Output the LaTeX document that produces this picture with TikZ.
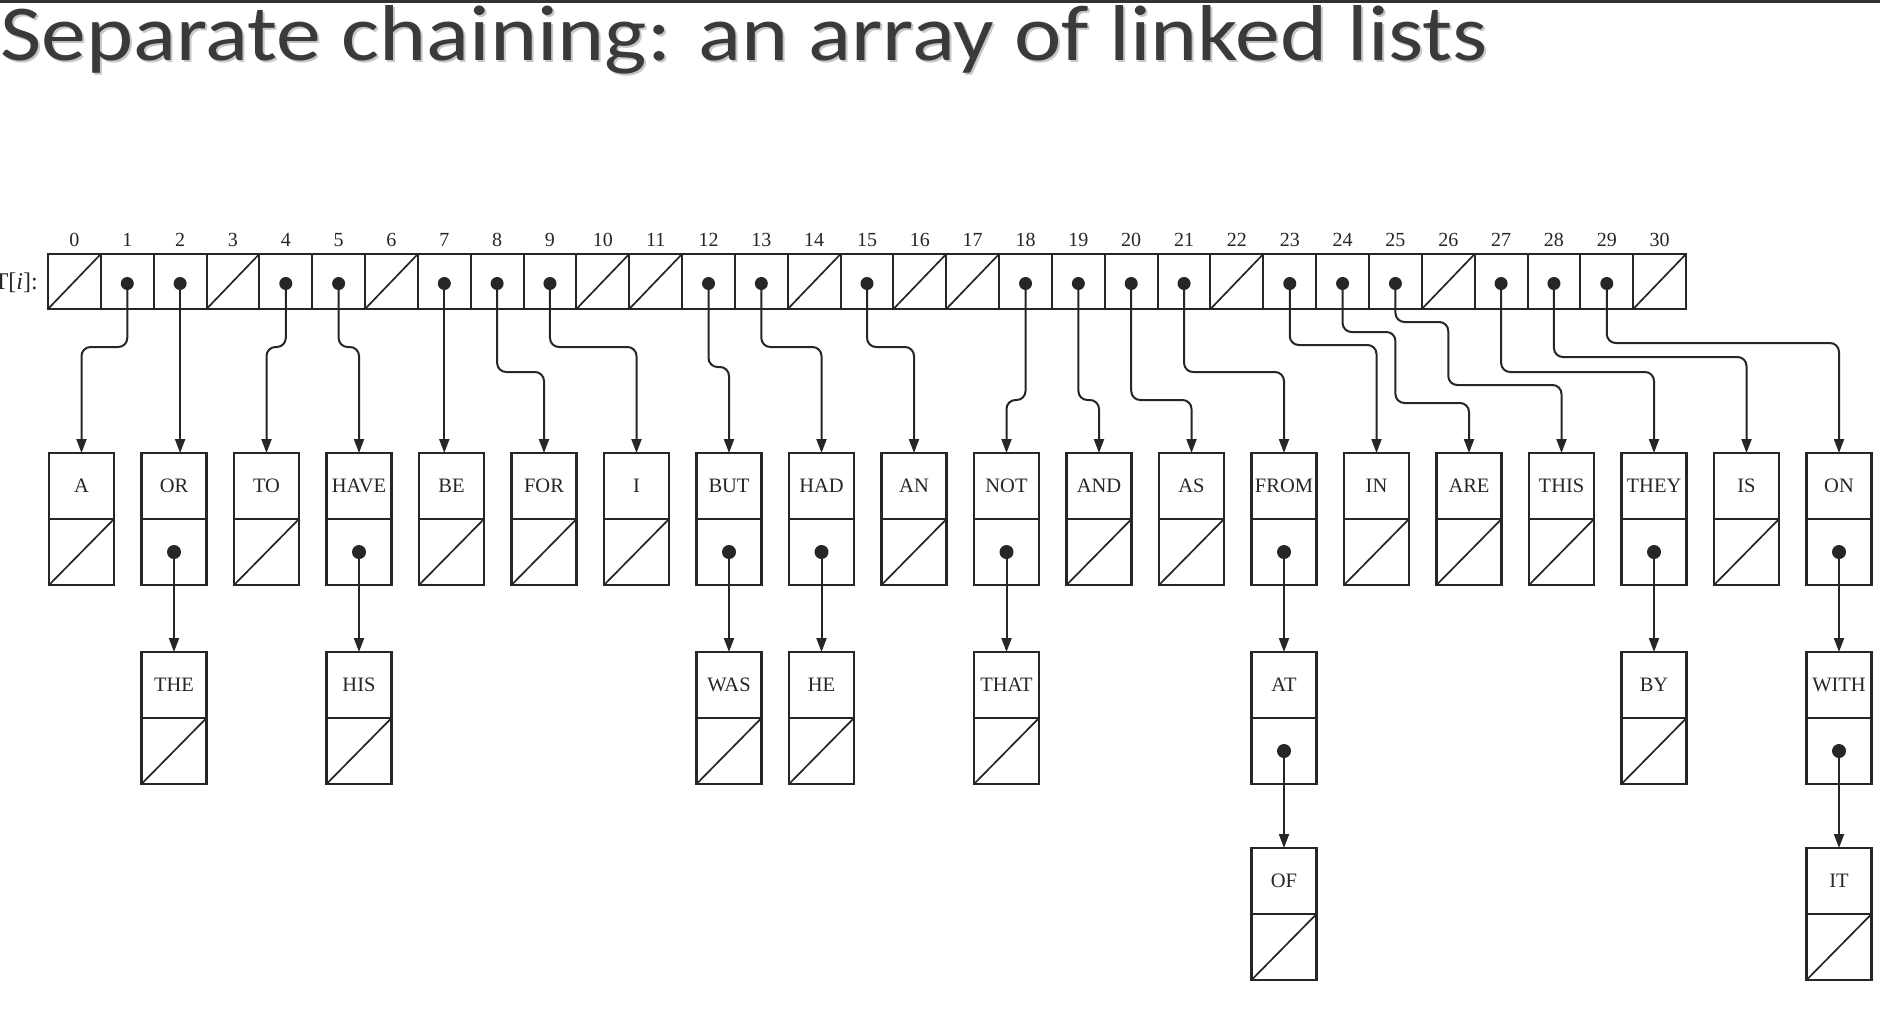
\documentclass[tikz,border=0pt]{standalone}
\usepackage{fontspec}
\usepackage{graphicx}
\usetikzlibrary{arrows.meta}
\setmainfont{Liberation Serif}
\newfontfamily\titlefont{Carlito}
\definecolor{ink}{HTML}{262626}
\definecolor{titleink}{HTML}{3A3A3A}
\begin{document}
\begin{tikzpicture}[x=1pt,y=-1pt,
  acell/.style={draw=ink, line width=2pt, minimum width=52.84pt, minimum height=55pt, inner sep=0pt, outer sep=0pt},
  idx/.style={font=\fontsize{20}{20}\selectfont, text=ink, inner sep=0pt},
  keybox/.style={draw=ink, line width=2.2pt, minimum width=65pt, minimum height=66pt, inner sep=0pt, outer sep=0pt, font=\fontsize{20.5}{20.5}\selectfont, text=ink},
  ptrbox/.style={draw=ink, line width=2.2pt, minimum width=65pt, minimum height=66pt, inner sep=0pt, outer sep=0pt},
  diag/.style={draw=ink, line width=1.7pt},
  conn/.style={draw=ink, line width=2pt, rounded corners=9pt, -{Triangle[length=14pt,width=10pt]}},
  dot/.style={fill=ink}
]
\useasboundingbox (0,0) rectangle (1880,1020);
\fill[white] (0,0) rectangle (1880,1020);
\fill[black!80] (0,0) rectangle (1880,2.5);

% title
\node[anchor=base west, inner sep=0pt, text=black!22] (titleshadow) at (2,62.5) {\resizebox{1488pt}{55pt}{\titlefont Separate chaining: an array of linked lists}};
\node[anchor=base west, inner sep=0pt, text=titleink] (title) at (0,60) {\resizebox{1488pt}{55pt}{\titlefont Separate chaining: an array of linked lists}};

% array label
\node[anchor=east, inner sep=0pt, text=ink, font=\fontsize{24}{24}\selectfont] (tlabel) at (38,283) {T[\textit{i}]:};

% array cells and indices
\foreach \i in {0,...,30}{
  \node[acell] (c\i) at ({48+(\i+0.5)*52.84},281.5) {};
  \node[idx] (n\i) at ({48+(\i+0.5)*52.84},240) {\i};
}
\foreach \i in {0,3,6,10,11,14,16,17,22,26,30}
  \draw[diag] (c\i.south west) -- (c\i.north east);

% list nodes, row 1
\foreach \k/\w in {0/A,1/OR,2/TO,3/HAVE,4/BE,5/FOR,6/I,7/BUT,8/HAD,9/AN,10/NOT,11/AND,12/AS,13/FROM,14/IN,15/ARE,16/THIS,17/THEY,18/IS,19/ON}{
  \node[keybox] (k\w) at ({81.5+92.5*\k},486) {\w};
  \node[ptrbox] (p\w) at ({81.5+92.5*\k},552) {};
}
% row 2
\foreach \k/\w in {1/THE,3/HIS,7/WAS,8/HE,10/THAT,13/AT,17/BY,19/WITH}{
  \node[keybox] (k\w) at ({81.5+92.5*\k},685) {\w};
  \node[ptrbox] (p\w) at ({81.5+92.5*\k},751) {};
}
% row 3
\foreach \k/\w in {13/OF,19/IT}{
  \node[keybox] (k\w) at ({81.5+92.5*\k},881) {\w};
  \node[ptrbox] (p\w) at ({81.5+92.5*\k},947) {};
}

% null pointers in list nodes
\foreach \w in {A,TO,BE,FOR,I,AN,AND,AS,IN,ARE,THIS,IS,THE,HIS,WAS,HE,THAT,BY,OF,IT}
  \draw[diag] (p\w.south west) -- (p\w.north east);

% connectors from the array
\foreach \c/\w/\l in {1/A/347,4/TO/347,5/HAVE/347,8/FOR/372,9/I/347,12/BUT/367,13/HAD/347,15/AN/347,18/NOT/400,19/AND/400,20/AS/400,21/FROM/372,23/IN/345,27/THEY/372,28/IS/357,29/ON/343}
  \draw[conn] (c\c.center) -- (c\c.center |- 0,\l) -- (k\w.north |- 0,\l) -- (k\w.north);
\draw[conn] (c2.center) -- (c2.center |- kOR.north);
\draw[conn] (c7.center) -- (c7.center |- kBE.north);
\draw[conn] (c24.center) -- (c24.center |- 0,332) -- (c25.center |- 0,332) -- (c25.center |- 0,403) -- (kARE.north |- 0,403) -- (kARE.north);
\draw[conn] (c25.center) -- (c25.center |- 0,322) -- (c26.center |- 0,322) -- (c26.center |- 0,385) -- (kTHIS.north |- 0,385) -- (kTHIS.north);

% array dots
\foreach \i in {1,2,4,5,7,8,9,12,13,15,18,19,20,21,23,24,25,27,28,29}
  \fill[dot] ([yshift=-2pt]c\i.center) circle (6.5pt);

% chain connectors
\foreach \a/\b in {OR/THE,HAVE/HIS,BUT/WAS,HAD/HE,NOT/THAT,FROM/AT,THEY/BY,ON/WITH,AT/OF,WITH/IT}{
  \draw[conn] (p\a.center) -- (p\a.center |- k\b.north);
  \fill[dot] (p\a.center) circle (7pt);
}
\end{tikzpicture}
\end{document}
